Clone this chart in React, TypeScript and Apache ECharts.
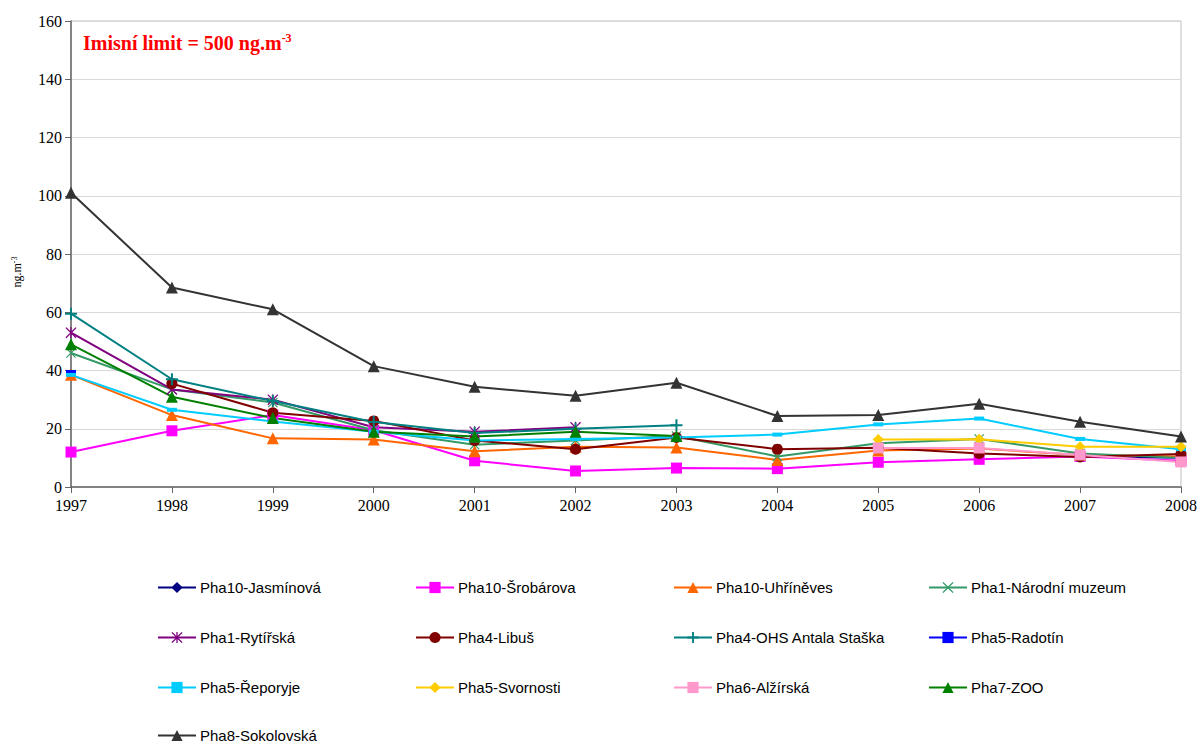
import React, { useEffect, useRef } from "react";
import * as echarts from "echarts";

const years = ["1997", "1998", "1999", "2000", "2001", "2002", "2003", "2004", "2005", "2006", "2007", "2008"];

const jasminova = [null, null, null, null, null, null, null, null, null, null, 10.5, 10];
const srobarova = [12, 19.3, 24.7, 19.5, 9, 5.5, 6.5, 6.3, 8.5, 9.5, 10.5, 9];
const uhrineves = [38.5, 24.7, 16.7, 16.3, 12.3, 13.8, 13.6, 9.3, 12.5, 13.2, 11, 10.5];
const narodniMuzeum = [46, 33.5, 29, 19.5, 14.5, 16, 17.5, 10.5, 15, 16.5, 11.5, 10];
const rytirska = [53, 33.5, 30, 20.5, 19, 20.5, null, null, null, null, null, null];
const libus = [null, 35.5, 25.5, 22.7, 16, 13, 17, 13, 13.5, 11.5, 10.3, 11.3];
const ohsStaska = [59.5, 37, 29.5, 22.3, 18.5, 20, 21.2, null, null, null, null, null];
const radotin = [39.5, null, null, null, null, null, null, null, null, null, null, null];
const reporyje = [38.5, 26.5, 22.5, 19, 16, 16.5, 17, 18, 21.5, 23.5, 16.5, 13];
const svornosti = [null, null, null, null, null, null, null, null, 16.3, 16.4, 13.8, 13.8];
const alzirska = [null, null, null, null, null, null, null, null, 13.4, 13.4, 11, 8.6];
const zoo = [49, 31, 23.7, 19, 17.3, 19, 17.5, null, null, null, null, null];
const sokolovska = [101, 68.5, 61, 41.5, 34.4, 31.3, 35.8, 24.4, 24.7, 28.6, 22.4, 17.3];

const X_PATH = "path://M0,1L1,0L6,5L11,0L12,1L7,6L12,11L11,12L6,7L1,12L0,11L5,6Z";
const PLUS_PATH = "path://M5,0H7V5H12V7H7V12H5V7H0V5H5Z";
const ASTER_PATH = "path://M0,1L1,0L6,5L11,0L12,1L7,6L12,11L11,12L6,7L1,12L0,11L5,6Z M5.3,0H6.7V12H5.3Z";

type Def = { name: string; data: (number | null)[]; color: string; symbol: string; size: number | number[] };

const defs: Def[] = [
  { name: "Pha10-Jasmínová", data: jasminova, color: "#000080", symbol: "diamond", size: 10 },
  { name: "Pha10-Šrobárova", data: srobarova, color: "#FF00FF", symbol: "rect", size: 11 },
  { name: "Pha10-Uhříněves", data: uhrineves, color: "#FF6600", symbol: "triangle", size: 12 },
  { name: "Pha1-Národní muzeum", data: narodniMuzeum, color: "#339966", symbol: X_PATH, size: 10 },
  { name: "Pha1-Rytířská", data: rytirska, color: "#800080", symbol: ASTER_PATH, size: 11 },
  { name: "Pha4-Libuš", data: libus, color: "#800000", symbol: "circle", size: 11 },
  { name: "Pha4-OHS Antala Staška", data: ohsStaska, color: "#008080", symbol: PLUS_PATH, size: 12 },
  { name: "Pha5-Radotín", data: radotin, color: "#0000FF", symbol: "rect", size: [10, 4] },
  { name: "Pha5-Řeporyje", data: reporyje, color: "#00CCFF", symbol: "rect", size: [10, 4] },
  { name: "Pha5-Svornosti", data: svornosti, color: "#FFCC00", symbol: "diamond", size: 11 },
  { name: "Pha6-Alžírská", data: alzirska, color: "#FF99CC", symbol: "rect", size: 11 },
  { name: "Pha7-ZOO", data: zoo, color: "#008000", symbol: "triangle", size: 12 },
  { name: "Pha8-Sokolovská", data: sokolovska, color: "#333333", symbol: "triangle", size: 12 },
];

const legendCols = [157, 415, 673, 928];
const legendRows = [587, 637, 687, 735];

export default function App() {
  const ref = useRef<HTMLDivElement>(null);
  useEffect(() => {
    if (!ref.current) return;
    const chart = echarts.init(ref.current, null, { renderer: "svg" });
    const series = defs.map((d) => ({
      name: d.name,
      type: "line",
      data: d.data,
      symbol: d.symbol,
      symbolSize: d.size,
      showAllSymbol: true,
      connectNulls: false,
      itemStyle: { color: d.color },
      lineStyle: { color: d.color, width: 2 },
      emphasis: { disabled: true },
    }));
    const legends = defs.map((d, i) => ({
      data: [d.name],
      left: legendCols[i % 4],
      top: legendRows[Math.floor(i / 4)] - 7,
      padding: 0,
      itemWidth: 38,
      itemHeight: 14,
      itemGap: 4,
      selectedMode: false,
      textStyle: { fontFamily: "Liberation Sans, Arial, sans-serif", fontSize: 15, color: "#000", padding: [0, 0, 0, -1] },
    }));
    chart.setOption({
      animation: false,
      backgroundColor: "#fff",
      grid: { left: 71, right: 22, top: 21, bottom: 259, show: true, borderColor: "#bfbfbf", borderWidth: 1 },
      xAxis: {
        type: "category",
        data: years,
        boundaryGap: false,
        axisLine: { lineStyle: { color: "#666", width: 1.5 } },
        axisTick: { show: true, length: 6, lineStyle: { color: "#666" } },
        axisLabel: { fontFamily: "Liberation Serif, Times New Roman, serif", fontSize: 16, color: "#000", margin: 10 },
        splitLine: { show: false },
      },
      yAxis: {
        type: "value",
        min: 0,
        max: 160,
        interval: 20,
        axisLine: { show: true, lineStyle: { color: "#666", width: 1.5 } },
        axisTick: { show: true, length: 6, lineStyle: { color: "#666" } },
        axisLabel: { fontFamily: "Liberation Serif, Times New Roman, serif", fontSize: 16, color: "#000", margin: 9 },
        splitLine: { show: true, lineStyle: { color: "#d9d9d9", width: 1 } },
      },
      legend: legends,
      series,
      graphic: [
        {
          type: "text",
          x: 83,
          y: 43,
          style: {
            text: "{a|Imisní limit = 500 ng.m}{b|-3}",
            textVerticalAlign: "middle",
            rich: {
              a: { fontFamily: "Liberation Serif, Times New Roman, serif", fontSize: 20, fontWeight: "bold", fill: "#FF0000", color: "#FF0000", verticalAlign: "middle" },
              b: { fontFamily: "Liberation Serif, Times New Roman, serif", fontSize: 12, fontWeight: "bold", fill: "#FF0000", color: "#FF0000", verticalAlign: "top", padding: [0, 0, 10, 0] },
            },
          },
        },
        {
          type: "text",
          x: 17,
          y: 272,
          rotation: Math.PI / 2,
          style: {
            text: "{a|ng.m}{b|-3}",
            align: "center",
            verticalAlign: "middle",
            textAlign: "center",
            textVerticalAlign: "middle",
            rich: {
              a: { fontFamily: "Liberation Serif, Times New Roman, serif", fontSize: 12, fill: "#000", color: "#000" },
              b: { fontFamily: "Liberation Serif, Times New Roman, serif", fontSize: 8, fill: "#000", color: "#000", verticalAlign: "top", padding: [0, 0, 6, 0] },
            },
          },
        },
      ],
    });
    return () => chart.dispose();
  }, []);
  return <div ref={ref} style={{ position: "fixed", left: 0, top: 0, width: 1203, height: 746 }} />;
}
